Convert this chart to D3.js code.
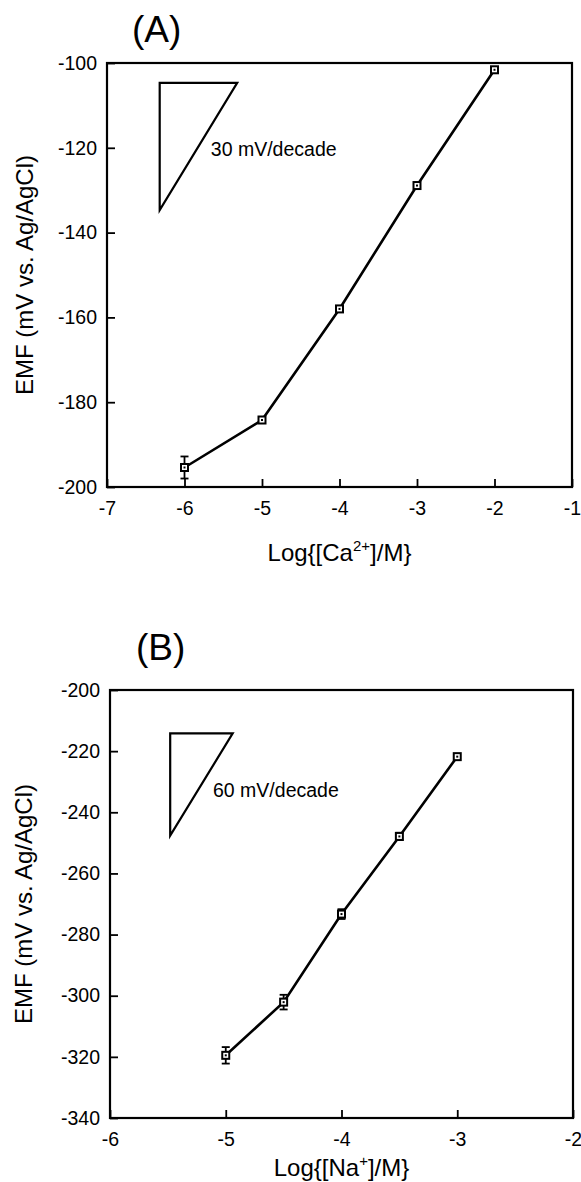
<!DOCTYPE html>
<html lang="en">
<head>
<meta charset="UTF-8">
<title>EMF response</title>
<script src="https://cdn.jsdelivr.net/npm/d3@7"></script>
<style>
    body { margin: 0; background: #fff; }
    svg { display: block; font-family: "Liberation Sans", Arial, Helvetica, sans-serif; }
</style>
</head>
<body>
<script>
// panel A: Ca2+
var caLog = [-6, -5, -4, -3, -2];
var caEMF = [-195.4, -184.2, -158.0, -128.9, -101.6];
var caErr = [2.6, 0, 0, 0, 0];
var caXTicks = [-7, -6, -5, -4, -3, -2, -1];
var caYTicks = [-100, -120, -140, -160, -180, -200];
var caTriangle = [[-6.32, -104.7], [-5.32, -104.7], [-6.32, -134.7]];
var caNote = {x: -5.66, y: -121.9, text: "30 mV/decade"};

// panel B: Na+
var naLog = [-5, -4.5, -4, -3.5, -3];
var naEMF = [-319.5, -302.1, -273.3, -247.9, -221.8];
var naErr = [2.7, 2.4, 1.6, 1.2, 0];
var naXTicks = [-6, -5, -4, -3, -2];
var naYTicks = [-200, -220, -240, -260, -280, -300, -320, -340];
var naTriangle = [[-5.48, -214.2], [-4.94, -214.2], [-5.48, -247.6]];
var naNote = {x: -5.11, y: -234.9, text: "60 mV/decade"};

var svg = d3.select("body").append("svg")
    .attr("width", 581)
    .attr("height", 1182);

function drawPanel(p) {
    var x = d3.scaleLinear().domain(d3.extent(p.xTicks)).range([p.left, p.right]);
    var y = d3.scaleLinear().domain(d3.extent(p.yTicks)).range([p.bottom, p.top]);
    var g = svg.append("g");

    // title
    g.append("text")
        .attr("x", p.titleX)
        .attr("y", p.titleY)
        .style("font-size", "37px")
        .text(p.title);

    // axes, ticks pointing inward
    var fmt = function (d) { return String(d); };
    var xAxis = d3.axisBottom(x).tickValues(p.xTicks).tickSize(-8).tickPadding(14.5).tickFormat(fmt);
    var yAxis = d3.axisLeft(y).tickValues(p.yTicks).tickSize(-8).tickPadding(10).tickFormat(fmt);

    var gx = g.append("g").attr("transform", "translate(0," + p.bottom + ")").call(xAxis);
    var gy = g.append("g").attr("transform", "translate(" + p.left + ",0)").call(yAxis);
    [gx, gy].forEach(function (a) {
        a.select(".domain").remove();
        a.selectAll("line").attr("stroke", "#000").attr("stroke-width", 1.8);
        a.selectAll("text")
            .attr("fill", "#000")
            .style("font-size", "19.5px")
            .style("font-family", "'Liberation Sans', Arial, sans-serif");
        a.attr("font-size", null).attr("font-family", null);
    });

    // frame
    g.append("rect")
        .attr("x", p.left)
        .attr("y", p.top)
        .attr("width", p.right - p.left)
        .attr("height", p.bottom - p.top)
        .attr("fill", "none")
        .attr("stroke", "#000")
        .attr("stroke-width", 2.2);

    // slope triangle
    g.append("path")
        .attr("d", d3.line().x(function (d) { return x(d[0]); }).y(function (d) { return y(d[1]); })(p.triangle) + "Z")
        .attr("fill", "none")
        .attr("stroke", "#000")
        .attr("stroke-width", 2.2);
    g.append("text")
        .attr("x", x(p.note.x))
        .attr("y", y(p.note.y))
        .style("font-size", "19.5px")
        .text(p.note.text);

    // data
    var pts = p.xs.map(function (v, i) { return {x: v, y: p.ys[i], e: p.err[i]}; });

    g.append("path")
        .datum(pts)
        .attr("d", d3.line().x(function (d) { return x(d.x); }).y(function (d) { return y(d.y); }))
        .attr("fill", "none")
        .attr("stroke", "#000")
        .attr("stroke-width", 2.6);

    var eb = g.append("g").selectAll("g")
        .data(pts.filter(function (d) { return d.e > 0; }))
        .enter().append("g")
        .attr("stroke", "#000")
        .attr("stroke-width", 1.8);
    eb.append("line")
        .attr("x1", function (d) { return x(d.x); })
        .attr("x2", function (d) { return x(d.x); })
        .attr("y1", function (d) { return y(d.y + d.e); })
        .attr("y2", function (d) { return y(d.y - d.e); });
    [1, -1].forEach(function (s) {
        eb.append("line")
            .attr("x1", function (d) { return x(d.x) - 4; })
            .attr("x2", function (d) { return x(d.x) + 4; })
            .attr("y1", function (d) { return y(d.y + s * d.e); })
            .attr("y2", function (d) { return y(d.y + s * d.e); });
    });

    var m = g.append("g").selectAll("g")
        .data(pts)
        .enter().append("g")
        .attr("transform", function (d) { return "translate(" + x(d.x) + "," + y(d.y) + ")"; });
    m.append("rect")
        .attr("x", -3.5).attr("y", -3.5)
        .attr("width", 7).attr("height", 7)
        .attr("fill", "#fff")
        .attr("stroke", "#000")
        .attr("stroke-width", 2);
    m.append("rect")
        .attr("x", -1).attr("y", -1)
        .attr("width", 2).attr("height", 2)
        .attr("fill", "#000");

    // axis labels
    var xl = g.append("text")
        .attr("x", (p.left + p.right) / 2)
        .attr("y", p.xLabelY)
        .attr("text-anchor", "middle")
        .style("font-size", "24px");
    xl.append("tspan").text("Log{[" + p.ion);
    xl.append("tspan").attr("dy", -10).style("font-size", "15px").text(p.charge);
    xl.append("tspan").attr("dy", 10).text("]/M}");

    g.append("text")
        .attr("transform", "translate(" + p.yLabelX + "," + (p.top + p.bottom) / 2 + ") rotate(-90)")
        .attr("text-anchor", "middle")
        .style("font-size", "24px")
        .text("EMF (mV vs. Ag/AgCl)");
}

drawPanel({
    title: "(A)", titleX: 132, titleY: 42,
    left: 107, right: 572, top: 63, bottom: 487,
    xTicks: caXTicks, yTicks: caYTicks,
    xs: caLog, ys: caEMF, err: caErr,
    triangle: caTriangle, note: caNote,
    ion: "Ca", charge: "2+", xLabelY: 561, yLabelX: 33
});

drawPanel({
    title: "(B)", titleX: 136, titleY: 660,
    left: 110, right: 573, top: 690, bottom: 1118,
    xTicks: naXTicks, yTicks: naYTicks,
    xs: naLog, ys: naEMF, err: naErr,
    triangle: naTriangle, note: naNote,
    ion: "Na", charge: "+", xLabelY: 1176, yLabelX: 32
});
</script>
</body>
</html>
